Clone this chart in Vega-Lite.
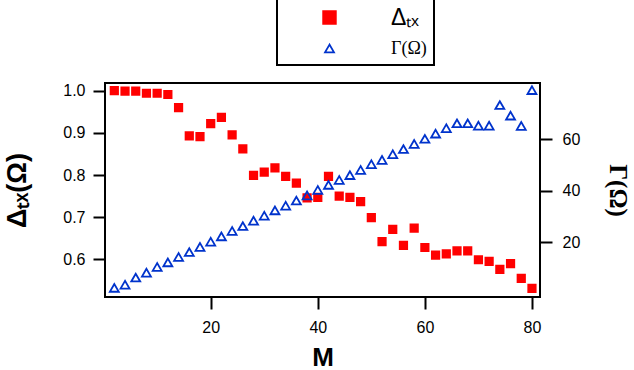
{
  "$schema": "https://vega.github.io/schema/vega-lite/v6.json",
  "autosize": {"type": "none"},
  "width": 435,
  "height": 214,
  "padding": {"left": 105, "top": 83, "right": 94, "bottom": 73},
  "background": "white",
  "datasets": {
    "d": [
      {"M": 2, "series": "Δₜₓ", "value": 1.0}, {"M": 4, "series": "Δₜₓ", "value": 0.999}, {"M": 6, "series": "Δₜₓ", "value": 0.999}, {"M": 8, "series": "Δₜₓ", "value": 0.994}, {"M": 10, "series": "Δₜₓ", "value": 0.994},
      {"M": 12, "series": "Δₜₓ", "value": 0.991}, {"M": 14, "series": "Δₜₓ", "value": 0.960}, {"M": 16, "series": "Δₜₓ", "value": 0.893}, {"M": 18, "series": "Δₜₓ", "value": 0.891}, {"M": 20, "series": "Δₜₓ", "value": 0.922},
      {"M": 22, "series": "Δₜₓ", "value": 0.937}, {"M": 24, "series": "Δₜₓ", "value": 0.895}, {"M": 26, "series": "Δₜₓ", "value": 0.862}, {"M": 28, "series": "Δₜₓ", "value": 0.799}, {"M": 30, "series": "Δₜₓ", "value": 0.807},
      {"M": 32, "series": "Δₜₓ", "value": 0.817}, {"M": 34, "series": "Δₜₓ", "value": 0.797}, {"M": 36, "series": "Δₜₓ", "value": 0.781}, {"M": 38, "series": "Δₜₓ", "value": 0.746}, {"M": 40, "series": "Δₜₓ", "value": 0.747},
      {"M": 42, "series": "Δₜₓ", "value": 0.797}, {"M": 44, "series": "Δₜₓ", "value": 0.750}, {"M": 46, "series": "Δₜₓ", "value": 0.747}, {"M": 48, "series": "Δₜₓ", "value": 0.737}, {"M": 50, "series": "Δₜₓ", "value": 0.699},
      {"M": 52, "series": "Δₜₓ", "value": 0.642}, {"M": 54, "series": "Δₜₓ", "value": 0.671}, {"M": 56, "series": "Δₜₓ", "value": 0.633}, {"M": 58, "series": "Δₜₓ", "value": 0.674}, {"M": 60, "series": "Δₜₓ", "value": 0.628},
      {"M": 62, "series": "Δₜₓ", "value": 0.610}, {"M": 64, "series": "Δₜₓ", "value": 0.613}, {"M": 66, "series": "Δₜₓ", "value": 0.620}, {"M": 68, "series": "Δₜₓ", "value": 0.620}, {"M": 70, "series": "Δₜₓ", "value": 0.599},
      {"M": 72, "series": "Δₜₓ", "value": 0.595}, {"M": 74, "series": "Δₜₓ", "value": 0.576}, {"M": 76, "series": "Δₜₓ", "value": 0.590}, {"M": 78, "series": "Δₜₓ", "value": 0.555}, {"M": 80, "series": "Δₜₓ", "value": 0.531},
      {"M": 2, "series": "Γ(Ω)", "value": 2.3}, {"M": 4, "series": "Γ(Ω)", "value": 3.5}, {"M": 6, "series": "Γ(Ω)", "value": 6.3}, {"M": 8, "series": "Γ(Ω)", "value": 8.2}, {"M": 10, "series": "Γ(Ω)", "value": 10.4},
      {"M": 12, "series": "Γ(Ω)", "value": 12.2}, {"M": 14, "series": "Γ(Ω)", "value": 14.3}, {"M": 16, "series": "Γ(Ω)", "value": 16.2}, {"M": 18, "series": "Γ(Ω)", "value": 18.2}, {"M": 20, "series": "Γ(Ω)", "value": 20.2},
      {"M": 22, "series": "Γ(Ω)", "value": 22.3}, {"M": 24, "series": "Γ(Ω)", "value": 24.4}, {"M": 26, "series": "Γ(Ω)", "value": 26.3}, {"M": 28, "series": "Γ(Ω)", "value": 28.4}, {"M": 30, "series": "Γ(Ω)", "value": 30.3},
      {"M": 32, "series": "Γ(Ω)", "value": 32.4}, {"M": 34, "series": "Γ(Ω)", "value": 34.2}, {"M": 36, "series": "Γ(Ω)", "value": 36.2}, {"M": 38, "series": "Γ(Ω)", "value": 38.2}, {"M": 40, "series": "Γ(Ω)", "value": 40.3},
      {"M": 42, "series": "Γ(Ω)", "value": 42.3}, {"M": 44, "series": "Γ(Ω)", "value": 44.2}, {"M": 46, "series": "Γ(Ω)", "value": 46.1}, {"M": 48, "series": "Γ(Ω)", "value": 48.1}, {"M": 50, "series": "Γ(Ω)", "value": 50.3},
      {"M": 52, "series": "Γ(Ω)", "value": 52.0}, {"M": 54, "series": "Γ(Ω)", "value": 54.2}, {"M": 56, "series": "Γ(Ω)", "value": 56.2}, {"M": 58, "series": "Γ(Ω)", "value": 58.2}, {"M": 60, "series": "Γ(Ω)", "value": 60.2},
      {"M": 62, "series": "Γ(Ω)", "value": 62.2}, {"M": 64, "series": "Γ(Ω)", "value": 64.3}, {"M": 66, "series": "Γ(Ω)", "value": 66.2}, {"M": 68, "series": "Γ(Ω)", "value": 66.2}, {"M": 70, "series": "Γ(Ω)", "value": 65.3},
      {"M": 72, "series": "Γ(Ω)", "value": 65.3}, {"M": 74, "series": "Γ(Ω)", "value": 73.3}, {"M": 76, "series": "Γ(Ω)", "value": 69.2}, {"M": 78, "series": "Γ(Ω)", "value": 65.2}, {"M": 80, "series": "Γ(Ω)", "value": 79.1}
    ]
  },
  "data": {"name": "d"},
  "layer": [
    {
      "transform": [{"filter": "datum.series === 'Δₜₓ'"}],
      "mark": {"type": "point", "opacity": 1, "strokeWidth": 1.8, "size": 55},
      "encoding": {
        "x": {"field": "M", "type": "quantitative", "scale": {"domain": [0.26, 81.5], "nice": false, "zero": false},
          "axis": {"values": [20, 40, 60, 80], "labelPadding": 10, "title": "M", "titleFont": "Liberation Sans", "titleFontSize": 26, "titleFontWeight": "bold", "titlePadding": 9}},
        "y": {"field": "value", "type": "quantitative", "scale": {"domain": [0.5106, 1.0183], "nice": false, "zero": false},
          "axis": {"orient": "left", "values": [0.6, 0.7, 0.8, 0.9, 1.0], "format": ".1f", "labelPadding": 8, "title": "Δₜₓ(Ω)", "titleFont": "Liberation Sans", "titleFontSize": 27, "titleFontWeight": "bold", "titlePadding": 31}},
        "shape": {"field": "series", "type": "nominal", "scale": {"domain": ["Δₜₓ", "Γ(Ω)"], "range": ["square", "triangle-up"]}},
        "fill": {"field": "series", "type": "nominal", "scale": {"domain": ["Δₜₓ", "Γ(Ω)"], "range": ["#ff0000", "transparent"]}},
        "stroke": {"field": "series", "type": "nominal", "scale": {"domain": ["Δₜₓ", "Γ(Ω)"], "range": ["#ff0000", "#0033cc"]}}
      }
    },
    {
      "transform": [{"filter": "datum.series === 'Γ(Ω)'"}],
      "mark": {"type": "point", "opacity": 1, "strokeWidth": 1.8, "size": 80},
      "encoding": {
        "x": {"field": "M", "type": "quantitative"},
        "y": {"field": "value", "type": "quantitative", "scale": {"domain": [-1.24, 81.87], "nice": false, "zero": false},
          "axis": {"orient": "right", "values": [20, 40, 60], "labelPadding": 10, "title": "Γ(Ω)", "titleFont": "Liberation Serif", "titleFontSize": 25, "titleFontWeight": "bold", "titleAngle": 90, "titlePadding": 25}},
        "shape": {"field": "series", "type": "nominal"},
        "fill": {"field": "series", "type": "nominal"},
        "stroke": {"field": "series", "type": "nominal"}
      }
    }
  ],
  "resolve": {"scale": {"y": "independent"}},
  "config": {
    "view": {"stroke": "black", "strokeWidth": 2},
    "axis": {"domain": false, "grid": false, "ticks": true, "tickColor": "black", "tickWidth": 2, "tickSize": 12, "labelFont": "Liberation Sans", "labelFontSize": 16, "labelColor": "black", "titleColor": "black"},
    "legend": {
      "title": null, "orient": "none", "legendX": 172, "legendY": -84, "padding": 7,
      "strokeColor": "black", "strokeWidth": 2, "fillColor": "white", "symbolOffset": 34, "labelOffset": 50, "rowPadding": 7,
      "symbolStrokeWidth": 1.8,
      "symbolSize": {"expr": "datum.value === 'Γ(Ω)' ? 80 : 160"},
      "labelFont": {"expr": "datum.value === 'Γ(Ω)' ? 'Liberation Serif' : 'Liberation Sans'"},
      "labelFontSize": {"expr": "datum.value === 'Γ(Ω)' ? 18 : 23"},
      "labelColor": "black", "labelBaseline": "middle"
    }
  }
}
